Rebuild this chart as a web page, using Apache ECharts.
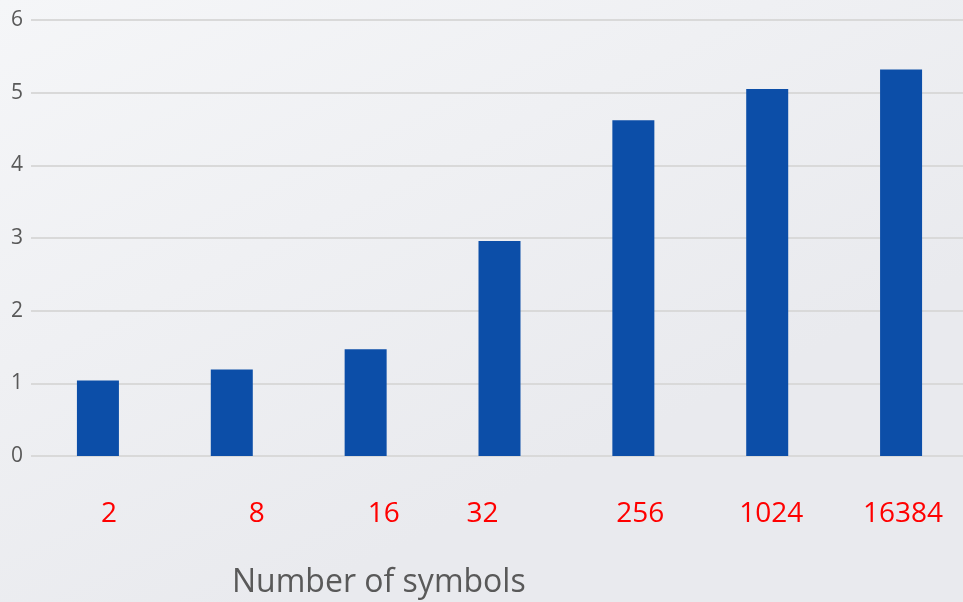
<!DOCTYPE html>
<html>
<head>
<meta charset="utf-8">
<script src="https://cdn.jsdelivr.net/npm/echarts@6/dist/echarts.min.js"></script>
<style>
html,body{margin:0;padding:0;}
#chart{width:963px;height:602px;}
</style>
</head>
<body>
<div id="chart"></div>
<script>
var categories = ['2', '8', '16', '32', '256', '1024', '16384'];
var values = [1.04, 1.19, 1.47, 2.96, 4.62, 5.05, 5.32];
var yTicks = [0, 1, 2, 3, 4, 5, 6];
var axisTitle = 'Number of symbols';

// horizontal nudges of the red category labels (px), as in the reference
var labelShift = [11, 25, 18, -17, 7, 4, 2];

var rich = {};
labelShift.forEach(function (s, i) {
  rich['l' + i] = {
    color: '#ff0000',
    fontSize: 28,
    fontFamily: 'Open Sans',
    padding: s >= 0 ? [0, 0, 0, 2 * s] : [0, -2 * s, 0, 0]
  };
});

var chart = echarts.init(document.getElementById('chart'));
chart.setOption({
  backgroundColor: {
    type: 'linear', x: 0, y: 0, x2: 0.3, y2: 1,
    colorStops: [
      {offset: 0, color: '#f5f6f8'},
      {offset: 1, color: '#e9eaee'}
    ]
  },
  animation: false,
  title: {
    text: axisTitle,
    left: 227,
    top: 562,
    textStyle: {fontFamily: 'Open Sans', fontSize: 32, fontWeight: 'normal', color: '#595959'}
  },
  grid: {left: 31, width: 937, top: 20, bottom: 146, containLabel: false, outerBoundsMode: 'none'},
  xAxis: {
    type: 'category',
    data: categories,
    axisLine: {show: false},
    axisTick: {show: false},
    axisLabel: {
      margin: 44,
      formatter: function (v, i) { return '{l' + i + '|' + v + '}'; },
      rich: rich
    }
  },
  yAxis: {
    type: 'value',
    min: yTicks[0],
    max: yTicks[yTicks.length - 1],
    interval: 1,
    axisLine: {show: false},
    axisTick: {show: false},
    axisLabel: {margin: 8, fontFamily: 'Open Sans', fontSize: 21, color: '#595959'},
    splitLine: {lineStyle: {color: '#d9d9d9', width: 2}}
  },
  series: [{
    type: 'bar',
    data: values,
    barWidth: 42,
    itemStyle: {color: '#0c4ea8'}
  }]
});
</script>
</body>
</html>
